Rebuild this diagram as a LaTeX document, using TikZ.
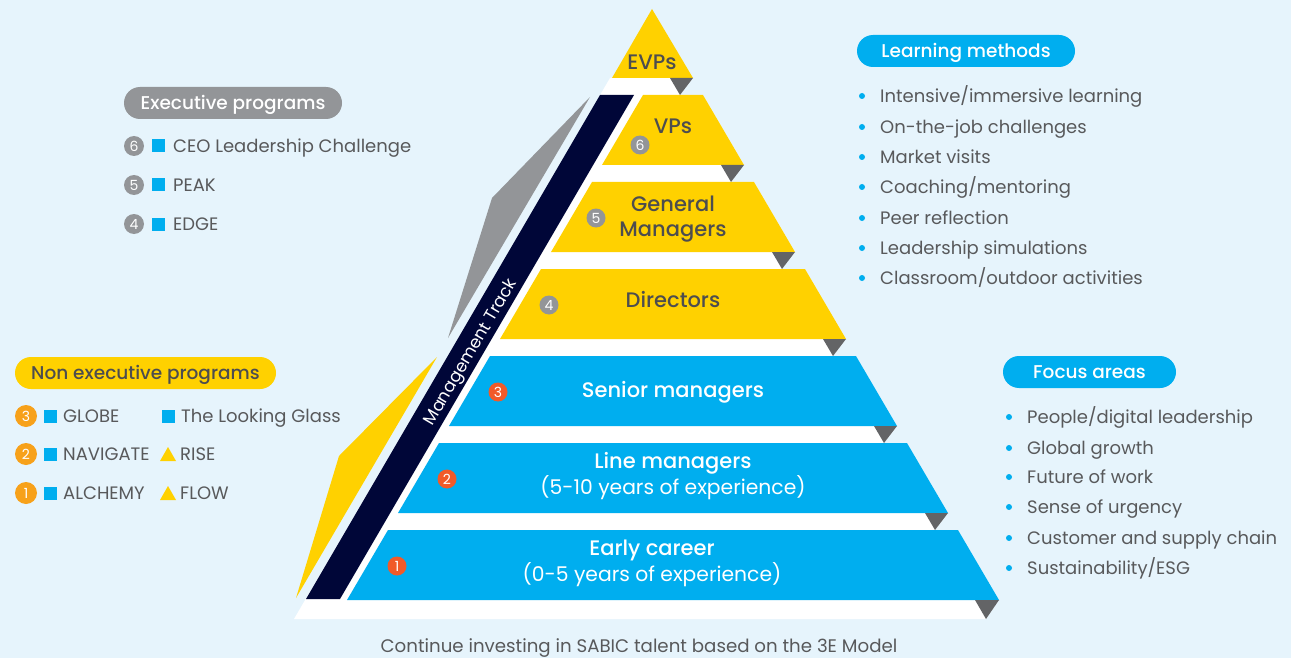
\documentclass[tikz,border=0pt]{standalone}
\usepackage{fontspec}
\setmainfont{Poppins}
\newfontfamily\medfont{Poppins Medium}
\usetikzlibrary{calc}
\definecolor{bgc}{HTML}{E6F4FC}
\definecolor{ylw}{HTML}{FFD100}
\definecolor{blu}{HTML}{00AEEF}
\definecolor{navy}{HTML}{000638}
\definecolor{dgray}{HTML}{636466}
\definecolor{wgray}{HTML}{939598}
\definecolor{tgray}{HTML}{58595B}
\definecolor{lbl}{HTML}{4D4D4F}
\definecolor{lorange}{HTML}{F7A11A}
\definecolor{rorange}{HTML}{F15A29}
\tikzset{
  x=1pt, y=-1pt,
  listtxt/.style={anchor=west, text=tgray, font=\fontsize{18}{18}\selectfont, inner sep=0, text height=13pt, text depth=0pt},
  pill/.style={rounded corners=16pt, minimum height=32pt, inner sep=0, font=\medfont\fontsize{18.5}{18.5}\selectfont, text height=13pt, text depth=0pt},
  numc/.style={circle, inner sep=0, minimum size=20pt, text=white, font=\fontsize{14}{14}\selectfont},
  sqb/.style={fill=blu, inner sep=0, minimum size=13pt},
  dotb/.style={circle, fill=blu, inner sep=0, minimum size=6pt},
  ttl/.style={font=\medfont\fontsize{21}{21}\selectfont, text height=15pt, text depth=0pt, inner sep=0},
  sub/.style={font=\fontsize{20.3}{20.3}\selectfont, text height=15pt, text depth=0pt, inner sep=0},
}
\begin{document}
\begin{tikzpicture}
\fill[bgc] (0,0) rectangle (1291,658);
\useasboundingbox (0,0) rectangle (1291,658);
% white backing
\fill[white] (294,619) -- (610,78) -- (693,78) -- (680,95) -- (703,95) -- (744,165) -- (731,182) -- (754,182) -- (795,252) -- (782,269) -- (805,269) -- (846,339) -- (833,356) -- (856,356) -- (897,426) -- (884,443) -- (907,443) -- (948,513) -- (935,530) -- (958,530) -- (999,600) -- (986,619) -- cycle;
% EVP
\fill[ylw] (652,9) -- (693,78) -- (612,78) -- cycle;
\fill[dgray] (670,78) -- (693,78) -- (680,95) -- cycle;
% layers
\fill[ylw] (643,95) -- (703,95) -- (744,165) -- (602,165) -- cycle;
\fill[dgray] (721,165) -- (744,165) -- (731,182) -- cycle;
\fill[ylw] (592,182) -- (754,182) -- (795,252) -- (551,252) -- cycle;
\fill[dgray] (772,252) -- (795,252) -- (782,269) -- cycle;
\fill[ylw] (541,269) -- (805,269) -- (846,339) -- (500,339) -- cycle;
\fill[dgray] (823,339) -- (846,339) -- (833,356) -- cycle;
\fill[blu] (490,356) -- (856,356) -- (897,426) -- (449,426) -- cycle;
\fill[dgray] (874,426) -- (897,426) -- (884,443) -- cycle;
\fill[blu] (439,443) -- (907,443) -- (948,513) -- (398,513) -- cycle;
\fill[dgray] (925,513) -- (948,513) -- (935,530) -- cycle;
\fill[blu] (388,530) -- (958,530) -- (999,600) -- (347,600) -- cycle;
\fill[dgray] (975,600) -- (999,600) -- (986,619) -- cycle;
% navy track and wedges
\fill[navy] (306,599) -- (600,95) -- (634,95) -- (340,599) -- cycle;
\fill[wgray] (590,97) -- (492,198) -- (448,338) -- cycle;
\fill[ylw] (437,357) -- (339,456) -- (296,598) -- cycle;
\node[rotate=59.7, text=white, font=\fontsize{17}{17}\selectfont, inner sep=0, text height=11pt, text depth=0pt] (mt) at (470,352) {Management Track};
% layer labels
\node[ttl, text=lbl] (evp) at (652,62) {EVPs};
\node[ttl, text=lbl] (vp) at (673,126) {VPs};
\node[ttl, text=lbl] (gm1) at (673,204) {General};
\node[ttl, text=lbl] (gm2) at (673,229) {Managers};
\node[ttl, text=lbl] (dir) at (673,300) {Directors};
\node[ttl, text=white] (sm) at (673,390) {Senior managers};
\node[ttl, text=white] (lm1) at (673,461) {Line managers};
\node[sub, text=white] (lm2) at (673,487) {(5-10 years of experience)};
\node[ttl, text=white] (ec1) at (652,548) {Early career};
\node[sub, text=white] (ec2) at (652,574) {(0-5 years of experience)};
\node[numc, fill=wgray, minimum size=19pt] (p6) at (640,145) {6};
\node[numc, fill=wgray, minimum size=19pt] (p5) at (596,218) {5};
\node[numc, fill=wgray, minimum size=19pt] (p4) at (549,305) {4};
\node[numc, fill=rorange, minimum size=19pt] (p3) at (498,392) {3};
\node[numc, fill=rorange, minimum size=19pt] (p2) at (447,479) {2};
\node[numc, fill=rorange, minimum size=19pt] (p1) at (397,566) {1};
% executive programs
\node[pill, fill=wgray, text=white, minimum width=218pt] (exec) at (233,103) {Executive programs};
\node[numc, fill=wgray] (e6) at (134,146) {6};
\node[sqb] (s6) at (158,146) {};
\node[listtxt] (t6) at (173,146) {CEO Leadership Challenge};
\node[numc, fill=wgray] (e5) at (134,185) {5};
\node[sqb] (s5) at (158,185) {};
\node[listtxt] (t5) at (173,185) {PEAK};
\node[numc, fill=wgray] (e4) at (134,224) {4};
\node[sqb] (s4) at (158,224) {};
\node[listtxt] (t4) at (173,224) {EDGE};
% non executive programs
\node[pill, fill=ylw, text=lbl, minimum width=261pt] (nonexec) at (145.5,373) {Non executive programs};
\node[numc, fill=lorange, minimum size=22pt] (n3) at (26,416) {3};
\node[sqb] (q3) at (50,416) {};
\node[listtxt] (g3) at (63,416) {GLOBE};
\node[sqb] (q3b) at (168,416) {};
\node[listtxt] (g3b) at (181,416) {The Looking Glass};
\node[numc, fill=lorange, minimum size=22pt] (n2) at (26,454) {2};
\node[sqb] (q2) at (50,454) {};
\node[listtxt] (g2) at (63,454) {NAVIGATE};
\fill[ylw] (160,461) -- (176,461) -- (168,447) -- cycle;
\node[listtxt] (g2b) at (180,454) {RISE};
\node[numc, fill=lorange, minimum size=22pt] (n1) at (26,493) {1};
\node[sqb] (q1) at (50,493) {};
\node[listtxt] (g1) at (63,493) {ALCHEMY};
\fill[ylw] (160,500) -- (176,500) -- (168,486) -- cycle;
\node[listtxt] (g1b) at (180,493) {FLOW};
% learning methods
\node[pill, fill=blu, text=white, minimum width=218pt] (lm) at (966,51) {Learning methods};
\foreach \yy/\tt [count=\k] in {96/Intensive\slash immersive learning, 127/On-the-job challenges, 157/Market visits, 187/Coaching\slash mentoring, 218/Peer reflection, 248/Leadership simulations, 278/Classroom\slash outdoor activities}{
  \node[dotb] (ld\k) at (862,\yy) {};
  \node[listtxt] (lt\k) at (880,\yy) {\tt};
}
% focus areas
\node[pill, fill=blu, text=white, minimum width=173pt] (fa) at (1089.5,372) {Focus areas};
\foreach \yy/\tt [count=\k] in {417/People\slash digital leadership, 448/Global growth, 477/Future of work, 507/Sense of urgency, 538/Customer and supply chain, 568/Sustainability\slash ESG}{
  \node[dotb] (fd\k) at (1009,\yy) {};
  \node[listtxt] (ft\k) at (1027,\yy) {\tt};
}
\node[text=tgray, font=\fontsize{18.2}{18.2}\selectfont, inner sep=0, text height=13pt, text depth=0pt] (cap) at (639,646) {Continue investing in SABIC talent based on the 3E Model};
\end{tikzpicture}
\end{document}
